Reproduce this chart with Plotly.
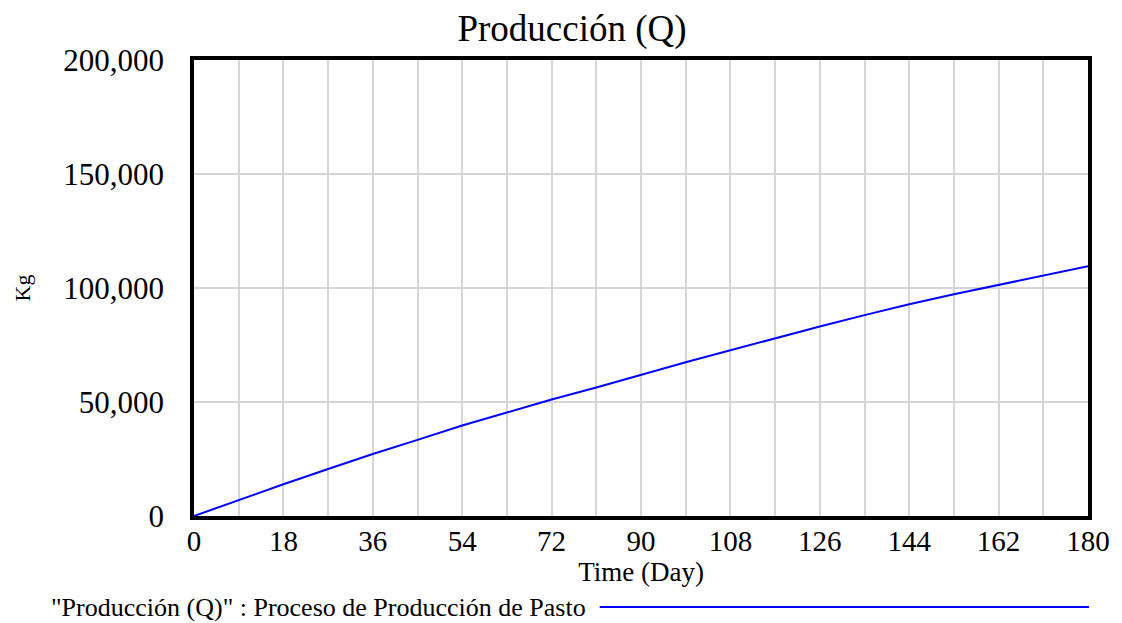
import plotly.graph_objects as go

# Data
days = [0, 9, 18, 27, 36, 45, 54, 63, 72, 81, 90, 99, 108, 117, 126, 135, 144, 153, 162, 171, 180]
produccion_kg = [0, 7000, 13900, 20600, 27200, 33400, 39700, 45400, 51100, 56400, 62000,
                 67400, 72700, 78000, 83100, 88100, 92900, 97300, 101300, 105400, 109500]

title_text = "Producción (Q)"
x_title = "Time (Day)"
y_title = "Kg"
legend_text = '"Producción (Q)" : Proceso de Producción de Pasto'

FONT = "Liberation Serif, Times New Roman, serif"
GRID = "#d6d6d6"

# page has an 8px body margin; size the figure so the plot lands where the reference has it
OFF = 8
W, H = 1122 - OFF, 623 - OFF
L, R, T, B = 190 - OFF, 33, 60 - OFF, 107
pw = W - L - R
ph = H - T - B

fig = go.Figure()
fig.add_trace(go.Scatter(
    x=days, y=produccion_kg, mode="lines",
    line=dict(color="#0000ff", width=2),
    name=legend_text, showlegend=False,
))

fig.update_layout(
    width=W, height=H,
    margin=dict(l=L, r=R, t=T, b=B),
    paper_bgcolor="white", plot_bgcolor="white",
    font=dict(family=FONT, color="black"),
    title=dict(text=title_text, x=(572 - OFF) / W, xref="container", xanchor="center",
               y=1 - (28 - OFF) / H, yref="container", yanchor="middle",
               font=dict(size=37, family=FONT, color="black")),
    xaxis=dict(
        range=[0, 180], dtick=18, tick0=0,
        showgrid=True, gridcolor=GRID, gridwidth=1.5,
        minor=dict(dtick=9, tick0=0, showgrid=True, gridcolor=GRID, gridwidth=1.5),
        showline=True, linecolor="black", linewidth=3.5, mirror=True,
        ticks="", tickfont=dict(size=29, family=FONT), ticklabelstandoff=-4,
        title=dict(text=x_title, font=dict(size=27, family=FONT), standoff=2),
        zeroline=False, fixedrange=True,
    ),
    yaxis=dict(
        range=[0, 200000], dtick=50000, tick0=0, tickformat=",d",
        showgrid=True, gridcolor=GRID, gridwidth=1.5,
        showline=True, linecolor="black", linewidth=3.5, mirror=True,
        ticks="", tickfont=dict(size=31, family=FONT), ticklabelstandoff=20,
        title=dict(text=y_title, font=dict(size=22, family=FONT), standoff=28),
        zeroline=False, fixedrange=True,
    ),
)

# Legend drawn Vensim-style: text followed by a line sample
leg_y = (516 - 607) / ph
fig.add_annotation(
    text=legend_text, xref="paper", yref="paper",
    x=(586 - 190) / pw, y=leg_y, xanchor="right", yanchor="middle",
    showarrow=False, font=dict(size=26, family=FONT, color="black"),
)
fig.add_shape(
    type="line", xref="paper", yref="paper",
    x0=(598 - 190) / pw, x1=(1090 - 190) / pw, y0=leg_y, y1=leg_y,
    line=dict(color="#0000ff", width=2),
)

fig.write_html("out.html")
